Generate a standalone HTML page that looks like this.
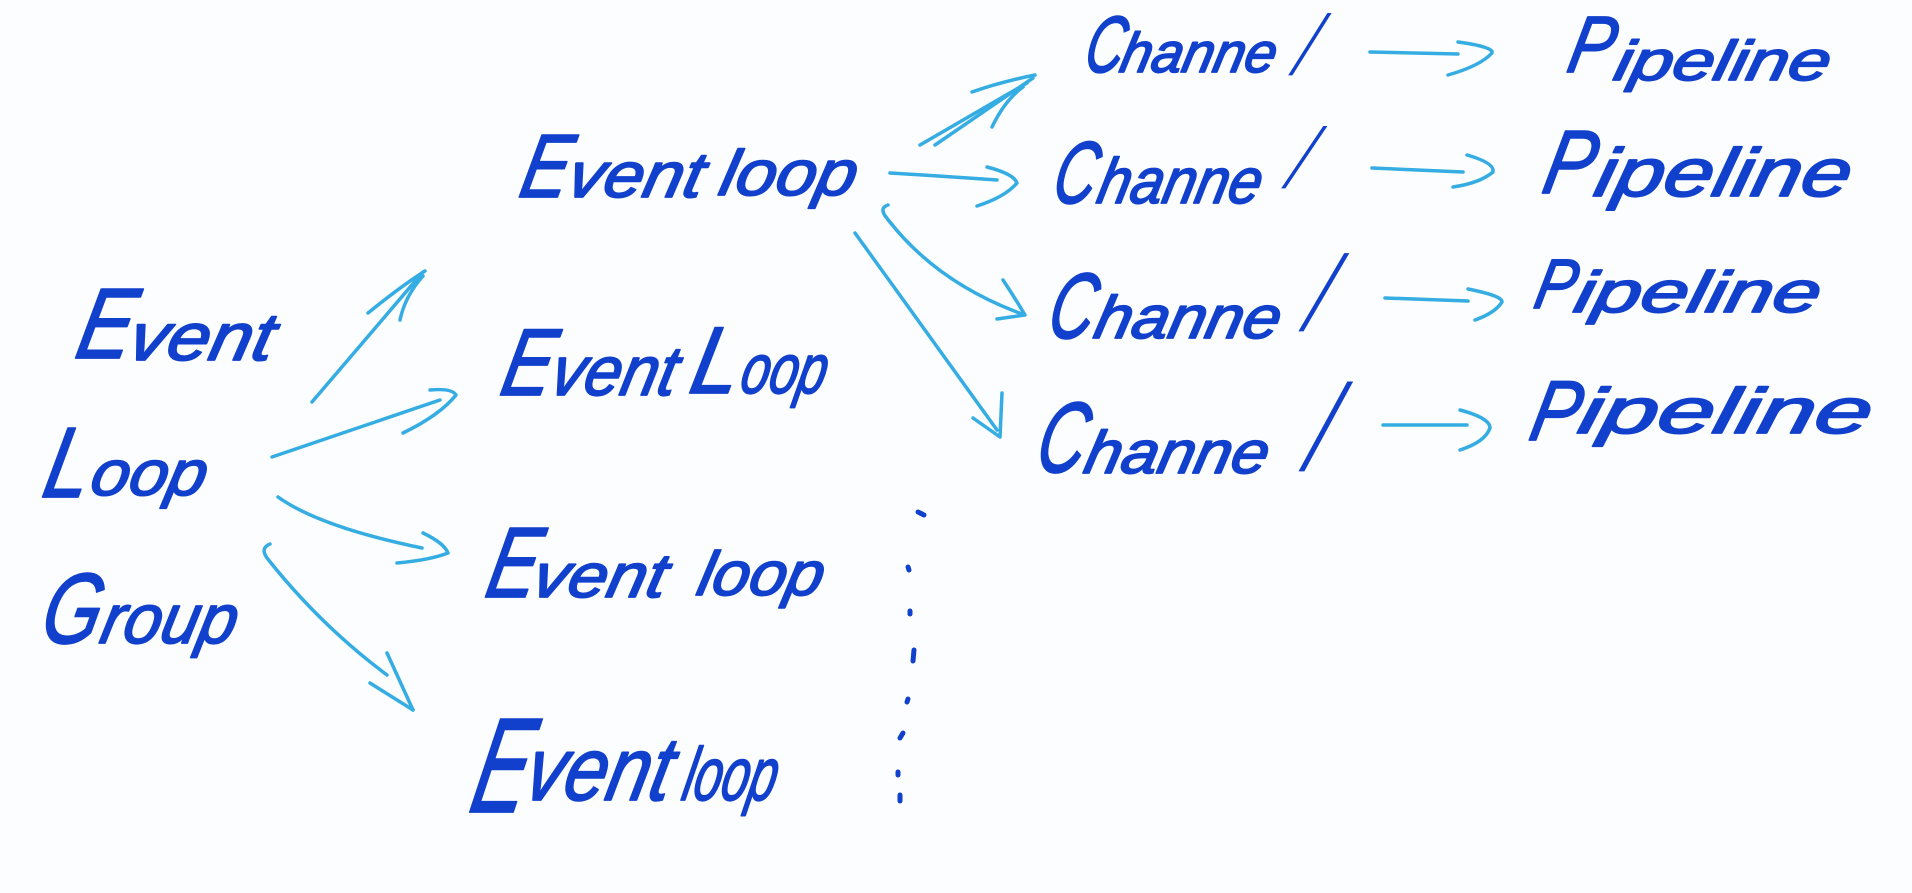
<!DOCTYPE html>
<html>
<head>
<meta charset="utf-8">
<style>
  html,body{margin:0;padding:0;background:#fcfdfe;}
  svg{display:block;}
  .t{font-family:"Liberation Sans","DejaVu Sans",sans-serif;font-style:italic;fill:#1040cc;stroke:#1040cc;stroke-width:1.8;stroke-linejoin:round;}
  .s{font-family:"Liberation Sans","DejaVu Sans",sans-serif;font-style:italic;fill:#1040cc;stroke:#1040cc;stroke-width:0.8;}
  .a{fill:none;stroke:#35ade3;stroke-width:3.5;stroke-linecap:round;stroke-linejoin:round;}
  .d{fill:none;stroke:#1040cc;stroke-width:5;stroke-linecap:round;}
</style>
</head>
<body>
<svg width="1912" height="893" viewBox="0 0 1912 893" xmlns="http://www.w3.org/2000/svg">
  <rect width="1912" height="893" fill="#fcfdfe"/>

  <!-- Left: Event Loop Group -->
  <text class="t" transform="translate(73,358) skewX(-12)" font-size="100" textLength="55" lengthAdjust="spacingAndGlyphs">E</text>
  <text class="t" transform="translate(126,360) skewX(-12)" font-size="67" textLength="144" lengthAdjust="spacingAndGlyphs">vent</text>
  <text class="t" transform="translate(40,497) skewX(-12)" font-size="100" textLength="45" lengthAdjust="spacingAndGlyphs">L</text>
  <text class="t" transform="translate(88,495) skewX(-12)" font-size="64" textLength="115" lengthAdjust="spacingAndGlyphs">oop</text>
  <text class="t" transform="translate(38,643) skewX(-12)" font-size="100" textLength="58" lengthAdjust="spacingAndGlyphs">G</text>
  <text class="t" transform="translate(98,643) skewX(-12)" font-size="70" textLength="135" lengthAdjust="spacingAndGlyphs">roup</text>

  <!-- Middle: Event loops -->
  <text class="t" transform="translate(517,197) skewX(-12)" font-size="90" textLength="48" lengthAdjust="spacingAndGlyphs">E</text>
  <text class="t" transform="translate(565,197) skewX(-12)" font-size="64" textLength="135" lengthAdjust="spacingAndGlyphs">vent</text>
  <text class="t" transform="translate(717,195) skewX(-12)" font-size="64" textLength="136" lengthAdjust="spacingAndGlyphs">loop</text>

  <text class="t" transform="translate(498,395) skewX(-12)" font-size="95" textLength="50" lengthAdjust="spacingAndGlyphs">E</text>
  <text class="t" transform="translate(548,395) skewX(-12)" font-size="70" textLength="125" lengthAdjust="spacingAndGlyphs">vent</text>
  <text class="t" transform="translate(687,393) skewX(-12)" font-size="95" textLength="48" lengthAdjust="spacingAndGlyphs">L</text>
  <text class="t" transform="translate(738,393) skewX(-12)" font-size="70" textLength="85" lengthAdjust="spacingAndGlyphs">oop</text>

  <text class="t" transform="translate(483,597) skewX(-12)" font-size="100" textLength="50" lengthAdjust="spacingAndGlyphs">E</text>
  <text class="t" transform="translate(530,597) skewX(-12)" font-size="62" textLength="133" lengthAdjust="spacingAndGlyphs">vent</text>
  <text class="t" transform="translate(695,595) skewX(-12)" font-size="62" textLength="125" lengthAdjust="spacingAndGlyphs">loop</text>

  <text class="t" transform="translate(467,812) skewX(-12)" font-size="135" textLength="55" lengthAdjust="spacingAndGlyphs">E</text>
  <text class="t" transform="translate(522,800) skewX(-12)" font-size="90" textLength="145" lengthAdjust="spacingAndGlyphs">vent</text>
  <text class="t" transform="translate(680,800) skewX(-12)" font-size="75" textLength="93" lengthAdjust="spacingAndGlyphs">loop</text>

  <!-- Channels -->
  <text class="t" transform="translate(1082,72) skewX(-12)" font-size="80" textLength="38" lengthAdjust="spacingAndGlyphs">C</text>
  <text class="t" transform="translate(1118,72) skewX(-12)" font-size="56" textLength="155" lengthAdjust="spacingAndGlyphs">hanne</text>
  <text class="s" transform="translate(1288,75) skewX(-28) scale(0.5,1)" font-size="85">l</text>

  <text class="t" transform="translate(1050,203) skewX(-12)" font-size="88" textLength="42" lengthAdjust="spacingAndGlyphs">C</text>
  <text class="t" transform="translate(1095,203) skewX(-12)" font-size="64" textLength="163" lengthAdjust="spacingAndGlyphs">hanne</text>
  <text class="s" transform="translate(1281,188) skewX(-30) scale(0.5,1)" font-size="85">l</text>

  <text class="t" transform="translate(1045,338) skewX(-12)" font-size="93" textLength="45" lengthAdjust="spacingAndGlyphs">C</text>
  <text class="t" transform="translate(1092,338) skewX(-12)" font-size="60" textLength="185" lengthAdjust="spacingAndGlyphs">hanne</text>
  <text class="s" transform="translate(1298,331) skewX(-26) scale(0.5,1)" font-size="107">l</text>

  <text class="t" transform="translate(1033,472) skewX(-12)" font-size="100" textLength="48" lengthAdjust="spacingAndGlyphs">C</text>
  <text class="t" transform="translate(1082,473) skewX(-12)" font-size="60" textLength="183" lengthAdjust="spacingAndGlyphs">hanne</text>
  <text class="s" transform="translate(1298,471) skewX(-24) scale(0.5,1)" font-size="123">l</text>

  <!-- Pipelines -->
  <text class="t" transform="translate(1565,72) skewX(-12)" font-size="80" textLength="45" lengthAdjust="spacingAndGlyphs">P</text>
  <text class="t" transform="translate(1612,80) skewX(-12)" font-size="56" textLength="215" lengthAdjust="spacingAndGlyphs">ipeline</text>

  <text class="t" transform="translate(1540,193) skewX(-12)" font-size="90" textLength="50" lengthAdjust="spacingAndGlyphs">P</text>
  <text class="t" transform="translate(1592,196) skewX(-12)" font-size="68" textLength="255" lengthAdjust="spacingAndGlyphs">ipeline</text>

  <text class="t" transform="translate(1532,308) skewX(-12)" font-size="70" textLength="40" lengthAdjust="spacingAndGlyphs">P</text>
  <text class="t" transform="translate(1572,312) skewX(-12)" font-size="58" textLength="245" lengthAdjust="spacingAndGlyphs">ipeline</text>

  <text class="t" transform="translate(1527,440) skewX(-12)" font-size="85" textLength="48" lengthAdjust="spacingAndGlyphs">P</text>
  <text class="t" transform="translate(1576,433) skewX(-12)" font-size="64" textLength="292" lengthAdjust="spacingAndGlyphs">ipeline</text>

  <!-- Arrows from Event Loop Group -->
  <path class="a" d="M312,402 L423,272"/>
  <path class="a" d="M368,313 Q400,287 425,271"/>
  <path class="a" d="M423,276 Q405,296 400,320"/>

  <path class="a" d="M272,457 L440,400"/>
  <path class="a" d="M430,390 Q452,388 456,395 Q440,415 403,433"/>

  <path class="a" d="M278,497 Q320,527 422,548"/>
  <path class="a" d="M423,533 Q444,543 448,553 Q430,560 397,563"/>

  <path class="a" d="M270,544 Q260,548 267,558 Q320,625 387,675"/>
  <path class="a" d="M387,653 L413,710"/>
  <path class="a" d="M370,683 L413,710"/>

  <!-- Arrows from top Event loop -->
  <path class="a" d="M920,145 L1027,83"/>
  <path class="a" d="M935,145 L1033,78"/>
  <path class="a" d="M972,92 Q1000,82 1035,75"/>
  <path class="a" d="M992,127 Q1005,100 1023,87"/>

  <path class="a" d="M890,173 Q940,176 997,180"/>
  <path class="a" d="M987,167 Q1014,174 1017,183 Q1005,197 977,206"/>

  <path class="a" d="M888,205 Q879,208 886,217 Q935,282 1022,314"/>
  <path class="a" d="M1003,280 Q1015,298 1025,315 L997,319"/>

  <path class="a" d="M855,233 L997,430"/>
  <path class="a" d="M1002,393 L1000,437 L973,418"/>

  <!-- Channel to Pipeline arrows -->
  <path class="a" d="M1370,52 L1458,54"/>
  <path class="a" d="M1458,42 Q1494,47 1492,53 Q1480,66 1448,75"/>

  <path class="a" d="M1372,168 L1463,172"/>
  <path class="a" d="M1467,155 Q1495,163 1493,172 Q1480,183 1453,187"/>

  <path class="a" d="M1385,298 L1468,301"/>
  <path class="a" d="M1468,289 Q1503,296 1502,302 Q1495,313 1475,320"/>

  <path class="a" d="M1383,425 L1467,425"/>
  <path class="a" d="M1460,410 Q1490,418 1490,428 Q1485,442 1460,450"/>

  <!-- Vertical dots -->
  <path class="d" d="M918,512 L924,515"/>
  <path class="d" d="M908,567 L909,570"/>
  <path class="d" d="M910,611 L910,614"/>
  <path class="d" d="M914,650 L913,661"/>
  <path class="d" d="M908,699 L907,702"/>
  <path class="d" d="M903,733 L900,738"/>
  <path class="d" d="M898,772 L898,775"/>
  <path class="d" d="M900,795 L900,801"/>
</svg>
</body>
</html>
